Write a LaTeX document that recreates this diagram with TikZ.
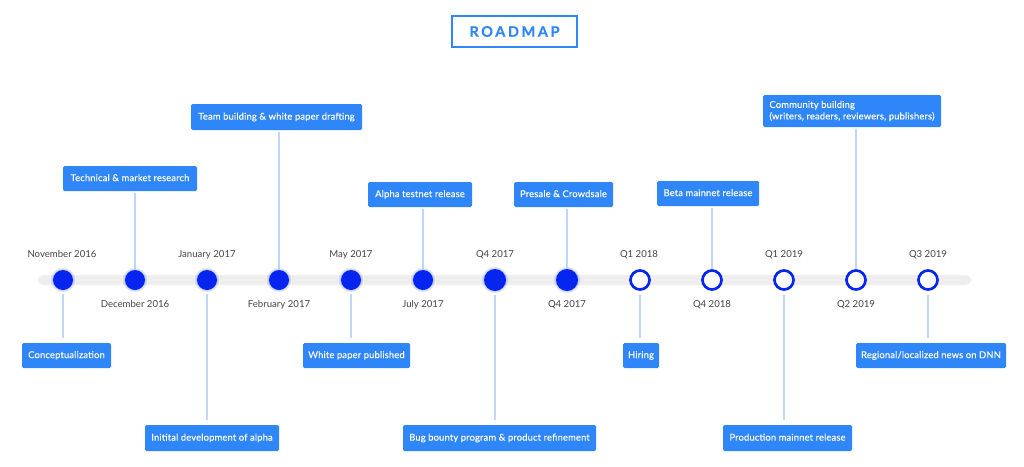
\documentclass[tikz,border=0pt]{standalone}
\usepackage{fontspec}
\setmainfont{Lato}
\newfontfamily\titlefont[LetterSpace=18,FakeBold=0.5]{Lato Bold}
\definecolor{boxblue}{HTML}{2E86F9}
\definecolor{dotblue}{HTML}{0626F0}
\definecolor{linkblue}{HTML}{BBD8FB}
\definecolor{trackgrey}{HTML}{EEEEEE}
\definecolor{dategrey}{HTML}{444444}
\tikzset{
  boxnode/.style={fill=boxblue,rounded corners=1.5pt,text=white,inner sep=0pt,font=\fontsize{9.4}{11.5}\selectfont\addfontfeatures{LetterSpace=1.6,FakeBold=0.25}},
  date/.style={text=dategrey,inner sep=0pt,text height=6.5pt,text depth=2pt,font=\fontsize{9.6}{12}\selectfont},
  solid dot/.style={circle,fill=dotblue,inner sep=0pt,minimum size=#1},
  ring dot/.style={circle,fill=white,draw=dotblue,line width=2.7pt,inner sep=0pt,minimum size=19pt},
  link/.style={draw=linkblue,line width=1.1pt},
  glow/.style={fill=dotblue,opacity=0.07}
}
\newcommand{\glowat}[2]{%
  \fill[glow] (#1,280) circle (#2+2.4);
  \fill[glow] (#1,280) circle (#2+1.6);
  \fill[glow] (#1,280) circle (#2+0.8);}
\newcommand{\boxat}[6]{% name, x0, y0, x1, y1, text
  \node[boxnode,align=left,minimum width=#4pt-#2pt,minimum height=#5pt-#3pt] (#1) at ({(#2+#4)/2},{(#3+#5)/2}) {\vphantom{Ag}#6};}
\begin{document}
\begin{tikzpicture}[x=1pt,y=-1pt]
\useasboundingbox[fill=white] (0,0) rectangle (1024,466);
% title
\node[draw=boxblue,line width=2pt,minimum width=125pt,minimum height=31pt,inner sep=0pt,text=boxblue,font=\fontsize{14.5}{18}\selectfont\titlefont] (title) at (514.5,31.5) {ROADMAP};
% track
\fill[trackgrey,rounded corners=5pt] (38,275) rectangle (971,285);
% glows
\glowat{63}{10}\glowat{135}{10}\glowat{207}{10}\glowat{279}{10}\glowat{351}{10}\glowat{423}{10}\glowat{495}{11}\glowat{567}{11}
% dots
\node[solid dot=20pt] (d1) at (63,280) {};
\node[solid dot=20pt] (d2) at (135,280) {};
\node[solid dot=20pt] (d3) at (207,280) {};
\node[solid dot=20pt] (d4) at (279,280) {};
\node[solid dot=20pt] (d5) at (351,280) {};
\node[solid dot=20pt] (d6) at (423,280) {};
\node[solid dot=22pt] (d7) at (495,280) {};
\node[solid dot=22pt] (d8) at (567,280) {};
\node[ring dot] (d9) at (640,280) {};
\node[ring dot] (d10) at (712,280) {};
\node[ring dot] (d11) at (784,280) {};
\node[ring dot] (d12) at (856,280) {};
\node[ring dot] (d13) at (928,280) {};
% dates
\node[date] (t1) at (62,255) {November 2016};
\node[date] (t2) at (135,305) {December 2016};
\node[date] (t3) at (207,255) {January 2017};
\node[date] (t4) at (279,305) {February 2017};
\node[date] (t5) at (351,255) {May 2017};
\node[date] (t6) at (423,305) {July 2017};
\node[date] (t7) at (495,255) {Q4 2017};
\node[date] (t8) at (567,305) {Q4 2017};
\node[date] (t9) at (639,255) {Q1 2018};
\node[date] (t10) at (712,305) {Q4 2018};
\node[date] (t11) at (784,255) {Q1 2019};
\node[date] (t12) at (856,305) {Q2 2019};
\node[date] (t13) at (928,255) {Q3 2019};
% boxes
\boxat{b1}{22}{343}{111}{368}{Conceptualization}
\boxat{b2}{63}{166}{197}{191}{Technical \& market research}
\boxat{b3}{145}{425}{279}{451}{Initital development of alpha}
\boxat{b4}{191}{104}{362}{130}{Team building \& white paper drafting}
\boxat{b5}{303}{343}{410}{368}{White paper published}
\boxat{b6}{368}{182}{472}{207}{Alpha testnet release}
\boxat{b7}{403}{425}{596}{451}{Bug bounty program \& product refinement}
\boxat{b8}{514}{182}{613}{207}{Presale \& Crowdsale}
\boxat{b9}{623}{343}{659}{368}{Hiring}
\boxat{b10}{657}{181}{759}{206}{Beta mainnet release}
\boxat{b11}{723}{425}{852}{451}{Production mainnet release}
\boxat{b12}{763}{95}{941}{127}{Community building\\(writers, readers, reviewers, publishers)}
\boxat{b13}{856}{343}{1006}{368}{Regional/localized news on DNN}
% connectors, above the track
\draw[link,shorten <=2pt] (b2.south -| d2) -- (d2.north);
\draw[link,shorten <=2pt] (b4.south -| d4) -- (d4.north);
\draw[link,shorten <=2pt] (b6.south -| d6) -- (d6.north);
\draw[link,shorten <=2pt] (b8.south -| d8) -- (d8.north);
\draw[link,shorten <=2pt] (b10.south -| d10) -- (d10.north);
\draw[link,shorten <=2pt] (b12.south -| d12) -- (d12.north);
% connectors, below the track
\draw[link,shorten <=4pt,shorten >=5pt] (d1.south) -- (b1.north -| d1);
\draw[link,shorten <=4pt,shorten >=5pt] (d3.south) -- (b3.north -| d3);
\draw[link,shorten <=4pt,shorten >=5pt] (d5.south) -- (b5.north -| d5);
\draw[link,shorten <=4pt,shorten >=5pt] (d7.south) -- (b7.north -| d7);
\draw[link,shorten <=4pt,shorten >=5pt] (d9.south) -- (b9.north -| d9);
\draw[link,shorten <=4pt,shorten >=5pt] (d11.south) -- (b11.north -| d11);
\draw[link,shorten <=4pt,shorten >=5pt] (d13.south) -- (b13.north -| d13);
\end{tikzpicture}
\end{document}
